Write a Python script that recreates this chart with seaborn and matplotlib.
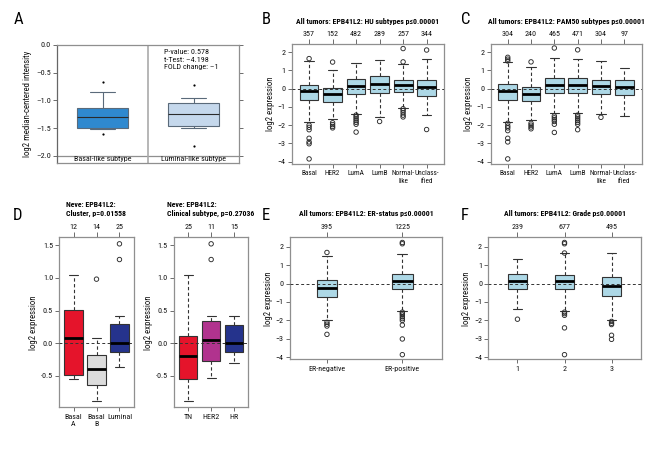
import numpy as np
import pandas as pd
import matplotlib
matplotlib.use("Agg")
import matplotlib.pyplot as plt
import seaborn as sns
from matplotlib import font_manager

sns.set_style("white")

# pick a narrow/condensed sans face if one is installed
fl = font_manager.fontManager.ttflist
cond_stretch = ("condensed", "semi-condensed", "extra-condensed")
FAM, STRETCH, SCALE = "DejaVu Sans", "normal", 0.86
for pref in ["Liberation Sans Narrow", "Roboto Condensed", "Open Sans Condensed",
             "Noto Sans", "Open Sans", "Roboto", "DejaVu Sans"]:
    hit = [f for f in fl if f.name == pref and
           ("Narrow" in pref or "Condensed" in pref or f.stretch in cond_stretch)]
    if hit:
        FAM = pref
        STRETCH = "normal" if ("Narrow" in pref or "Condensed" in pref) else hit[0].stretch
        SCALE = 1.0
        break
plt.rcParams["font.family"] = [FAM, "DejaVu Sans"]
plt.rcParams["font.stretch"] = STRETCH

# ---------------- data ----------------
# Panel A (Oncomine)
a_cats = ["Basal-like subtype", "Luminal-like subtype"]
a_lo = [-1.52, -1.50]
a_q1 = [-1.49, -1.47]
a_med = [-1.30, -1.25]
a_q3 = [-1.14, -1.04]
a_hi = [-0.85, -0.95]
a_dots = {"Basal-like subtype": [-0.67, -1.61], "Luminal-like subtype": [-0.72, -1.82]}

# Panel B (HU subtypes)
b_cats = ["Basal", "HER2", "LumA", "LumB", "Normal", "Unclass"]
b_labels = ["Basal", "HER2", "LumA", "LumB", "Normal-\nlike", "Unclass-\nified"]
b_counts = ["357", "152", "482", "289", "257", "344"]
b_lo = [-1.85, -1.65, -1.38, -1.53, -1.04, -1.46]
b_q1 = [-0.63, -0.72, -0.27, -0.23, -0.16, -0.40]
b_med = [-0.11, -0.31, 0.14, 0.27, 0.20, 0.09]
b_q3 = [0.22, 0.04, 0.54, 0.72, 0.47, 0.47]
b_hi = [1.53, 1.00, 1.40, 1.60, 1.35, 1.62]
b_out = {
    "Basal": [1.65, -2.0, -2.12, -2.25, -2.72, -2.92, -3.02, -3.85],
    "HER2": [1.46, -1.87, -1.97, -2.07, -2.15],
    "LumA": [-1.45, -1.55, -1.65, -1.75, -1.85, -1.95, -2.38],
    "LumB": [-1.8],
    "Normal": [2.2, 1.47, -1.1, -1.2, -1.32, -1.45, -1.55],
    "Unclass": [2.12, -2.24],
}

# Panel C (PAM50 subtypes)
c_cats = b_cats
c_labels = b_labels
c_counts = ["304", "240", "465", "471", "304", "97"]
c_lo = [-1.83, -1.70, -1.32, -1.32, -1.41, -1.48]
c_q1 = [-0.60, -0.70, -0.22, -0.22, -0.27, -0.33]
c_med = [-0.12, -0.29, 0.20, 0.22, 0.13, 0.09]
c_q3 = [0.24, 0.11, 0.59, 0.60, 0.48, 0.48]
c_hi = [1.48, 1.19, 1.68, 1.63, 1.50, 1.13]
c_out = {
    "Basal": [1.52, 1.62, 1.72, -1.9, -2.05, -2.15, -2.3, -2.72, -2.92, -3.85],
    "HER2": [1.47, -1.9, -2.0, -2.1, -2.2],
    "LumA": [2.23, -1.5, -1.6, -1.7, -1.8, -1.95, -2.4],
    "LumB": [2.13, -1.45, -1.55, -1.65, -1.75, -1.85, -1.95, -2.25],
    "Normal": [-1.57],
    "Unclass": [],
}

# Panel D (Neve cell lines)
d1_cats = ["BasalA", "BasalB", "Luminal"]
d1_labels = ["Basal\nA", "Basal\nB", "Luminal"]
d1_counts = ["12", "14", "25"]
d1_lo = [-0.55, -0.885, -0.36]
d1_q1 = [-0.49, -0.64, -0.14]
d1_med = [0.087, -0.39, 0.005]
d1_q3 = [0.51, -0.18, 0.29]
d1_hi = [1.05, 0.08, 0.42]
d1_out = {"BasalA": [], "BasalB": [0.98], "Luminal": [1.52, 1.28]}
d1_colors = ["#e5142b", "#dcdcdc", "#25338c"]

d2_cats = ["TN", "HER2", "HR"]
d2_counts = ["25", "11", "15"]
d2_lo = [-0.89, -0.53, -0.30]
d2_q1 = [-0.545, -0.27, -0.13]
d2_med = [-0.20, 0.05, 0.005]
d2_q3 = [0.117, 0.336, 0.28]
d2_hi = [1.05, 0.42, 0.41]
d2_out = {"TN": [], "HER2": [1.52, 1.28], "HR": []}
d2_colors = ["#e5142b", "#b1338e", "#25338c"]

# Panel E (ER status)
e_cats = ["ER-negative", "ER-positive"]
e_counts = ["395", "1225"]
e_lo = [-1.95, -1.51]
e_q1 = [-0.72, -0.32]
e_med = [-0.22, 0.13]
e_q3 = [0.20, 0.50]
e_hi = [1.51, 1.60]
e_out = {
    "ER-negative": [1.68, -2.1, -2.2, -2.3, -2.75],
    "ER-positive": [2.15, 2.22, -1.55, -1.62, -1.7, -1.8, -1.9, -2.0, -2.25, -3.0, -3.85],
}

# Panel F (Grade)
f_cats = ["1", "2", "3"]
f_counts = ["239", "677", "495"]
f_lo = [-1.40, -1.48, -1.95]
f_q1 = [-0.29, -0.32, -0.65]
f_med = [0.13, 0.13, -0.11]
f_q3 = [0.54, 0.47, 0.36]
f_hi = [1.35, 1.66, 1.66]
f_out = {
    "1": [-1.93],
    "2": [2.15, 2.22, 1.65, -1.55, -1.63, -1.72, -2.4, -3.85],
    "3": [-2.05, -2.15, -2.22, -2.8, -3.02],
}

# ---------------- helpers ----------------
W, H = 670, 450
fig = plt.figure(figsize=(6.7, 4.5), dpi=100)

def px_axes(l, r, t, b):
    return fig.add_axes([l / W, 1 - b / H, (r - l) / W, (b - t) / H])

def ftext(x, y, s, **kw):
    fig.text(x / W, 1 - y / H, s, **kw)

FS = 5.8 * SCALE
LFS = 6.3 * SCALE
TFS = 5.6 * SCALE
TXT = "#111111"
GRAY = "#8f8f8f"

def long_table(cats, lo, q1, med, q3, hi):
    vals = np.column_stack([lo, q1, med, q3, hi]).ravel()
    return pd.DataFrame({"cat": np.repeat(cats, 5), "val": vals})

def out_table(d):
    rows = [(k, v) for k, vs in d.items() for v in vs]
    return pd.DataFrame(rows, columns=["cat", "val"])

def r_panel(ax, cats, labels, counts, lo, q1, med, q3, hi, outs, colors,
            width, xlim, ylim, yticks, xfs=FS):
    df = long_table(cats, lo, q1, med, q3, hi)
    sns.boxplot(data=df, x="cat", y="val", order=cats, hue="cat", hue_order=cats,
                palette=colors, legend=False, whis=(0, 100), showfliers=False,
                width=width, saturation=1, linecolor="#333333", linewidth=0.8,
                medianprops=dict(color="black", linewidth=2.0, zorder=4),
                whiskerprops=dict(linestyle=(0, (3, 2.2)), linewidth=0.8),
                ax=ax)
    od = out_table(outs)
    n0 = len(ax.collections)
    if len(od):
        sns.stripplot(data=od, x="cat", y="val", order=cats, jitter=False,
                      size=3.2, color="#333333", ax=ax, zorder=5)
    for c in ax.collections[n0:]:
        c.set_facecolor("none")
        c.set_edgecolor("#2a2a2a")
        c.set_linewidth(0.65)
    ax.axhline(0, color="#333333", lw=0.7, ls=(0, (3, 2.5)), zorder=3)
    ax.set_xlim(*xlim)
    ax.set_ylim(*ylim)
    ax.set_yticks(yticks)
    ax.set_xticks(range(len(cats)), labels=labels)
    ax.set_xlabel("")
    ax.set_ylabel("log2 expression", fontsize=LFS, labelpad=2, color=TXT)
    ax.tick_params(axis="both", labelsize=FS, length=3, width=0.6, color="#555555",
                   pad=1.5, labelcolor=TXT, direction="out")
    ax.tick_params(axis="x", bottom=True, labelsize=xfs)
    ax.tick_params(axis="y", left=True)
    for s in ax.spines.values():
        s.set_color(GRAY)
        s.set_linewidth(0.9)
    sec = ax.secondary_xaxis("top")
    sec.set_xticks(range(len(cats)), labels=counts)
    sec.tick_params(labelsize=FS, length=3.5, width=0.6, color="#555555", pad=1.5,
                    labelcolor=TXT, direction="out")
    for s in sec.spines.values():
        s.set_visible(False)

# ---------------- panel A ----------------
axA = px_axes(57, 239, 44.7, 163)
dfA = long_table(a_cats, a_lo, a_q1, a_med, a_q3, a_hi)
sns.boxplot(data=dfA, x="cat", y="val", order=a_cats, hue="cat", hue_order=a_cats,
            palette=["#2f89cf", "#c5d8ec"], legend=False, whis=(0, 100),
            showfliers=False, width=0.56, saturation=1, linecolor="#5a6a7a",
            linewidth=0.8, medianprops=dict(color="#2b2b2b", linewidth=0.8),
            ax=axA)
odA = out_table(a_dots)
sns.stripplot(data=odA, x="cat", y="val", order=a_cats, jitter=False, size=1.6,
              color="black", ax=axA)
axA.axhline(-2.0, color=GRAY, lw=0.9)
axA.axvline(0.5, color="#aaaaaa", lw=1.2)
axA.set_xlim(-0.5, 1.5)
axA.set_ylim(-2.126, 0.0)
axA.set_yticks([0, -0.5, -1.0, -1.5, -2.0])
axA.set_yticklabels(["0.0", "–0.5", "–1.0", "–1.5", "–2.0"])
axA.set_xticks([])
axA.set_xlabel("")
axA.set_ylabel("log2 median-centered intensity", fontsize=LFS, labelpad=3, color=TXT)
axA.tick_params(axis="y", labelsize=FS, length=3, width=0.6, color="#555555",
                left=True, right=True, pad=1.5, labelcolor=TXT)
for s in axA.spines.values():
    s.set_color(GRAY)
    s.set_linewidth(0.9)
axA.spines["left"].set_color("#666666")
for i, lab in enumerate(a_cats):
    axA.text(i, -2.063, lab, ha="center", va="center", fontsize=FS, color=TXT)
axA.text(0.68, -0.27, "P-value: 0.578\nt-Test: –4.198\nFOLD change: –1",
         ha="left", va="center", fontsize=FS, linespacing=1.35, color=TXT)

# ---------------- panel B ----------------
axB = px_axes(291.7, 444, 44, 164)
r_panel(axB, b_cats, b_labels, b_counts, b_lo, b_q1, b_med, b_q3, b_hi, b_out,
        ["#add8e6"] * 6, 0.8, (-0.74, 5.74), (-4.13, 2.45), [-4, -3, -2, -1, 0, 1, 2],
        xfs=5.2 * SCALE)

# ---------------- panel C ----------------
axC = px_axes(490.5, 641.5, 44, 164)
r_panel(axC, c_cats, c_labels, c_counts, c_lo, c_q1, c_med, c_q3, c_hi, c_out,
        ["#add8e6"] * 6, 0.8, (-0.74, 5.74), (-4.13, 2.45), [-4, -3, -2, -1, 0, 1, 2],
        xfs=5.2 * SCALE)

# ---------------- panel D ----------------
axD1 = px_axes(59.3, 133.7, 237.3, 407.3)
r_panel(axD1, d1_cats, d1_labels, d1_counts, d1_lo, d1_q1, d1_med, d1_q3, d1_hi,
        d1_out, d1_colors, 0.8, (-0.62, 2.62), (-0.98, 1.62), [-0.5, 0, 0.5, 1.0, 1.5])
axD2 = px_axes(174, 248.3, 237.3, 407.3)
r_panel(axD2, d2_cats, d2_cats, d2_counts, d2_lo, d2_q1, d2_med, d2_q3, d2_hi,
        d2_out, d2_colors, 0.8, (-0.62, 2.62), (-0.98, 1.62), [-0.5, 0, 0.5, 1.0, 1.5])
for ax in (axD1, axD2):
    ax.yaxis.set_major_formatter(matplotlib.ticker.FormatStrFormatter("%.1f"))

# ---------------- panel E ----------------
axE = px_axes(290, 442.3, 237.3, 359.3)
r_panel(axE, e_cats, e_cats, e_counts, e_lo, e_q1, e_med, e_q3, e_hi, e_out,
        ["#add8e6"] * 2, 0.27, (-0.49, 1.53), (-4.1, 2.5), [-4, -3, -2, -1, 0, 1, 2])

# ---------------- panel F ----------------
axF = px_axes(488.3, 640.7, 237.3, 359.3)
r_panel(axF, f_cats, f_cats, f_counts, f_lo, f_q1, f_med, f_q3, f_hi, f_out,
        ["#add8e6"] * 3, 0.4, (-0.62, 2.62), (-4.1, 2.5), [-4, -3, -2, -1, 0, 1, 2])

# ---------------- titles and panel letters ----------------
tk = dict(fontsize=TFS, fontweight="bold", ha="center", va="center", color="#000000")
ftext(368, 21.7, "All tumors: EPB41L2: HU subtypes p≤0.00001", **tk)
ftext(566, 21.7, "All tumors: EPB41L2: PAM50 subtypes p≤0.00001", **tk)
ftext(96.5, 209, "Neve: EPB41L2:\nCluster, p=0.01558", multialignment="left",
      linespacing=1.3, **tk)
ftext(211, 209, "Neve: EPB41L2:\nClinical subtype, p=0.27036", multialignment="left",
      linespacing=1.3, **tk)
ftext(366, 214, "All tumors: EPB41L2: ER-status p≤0.00001", **tk)
ftext(564.5, 214, "All tumors: EPB41L2: Grade p≤0.00001", **tk)

lk = dict(fontsize=12, ha="center", va="center", color="#000000")
for x, y, s in [(18, 20, "A"), (266, 19, "B"), (466, 19, "C"),
                (18, 216, "D"), (266, 216, "E"), (465, 216, "F")]:
    ftext(x, y, s, **lk)

fig.savefig("out.png", dpi=100)
